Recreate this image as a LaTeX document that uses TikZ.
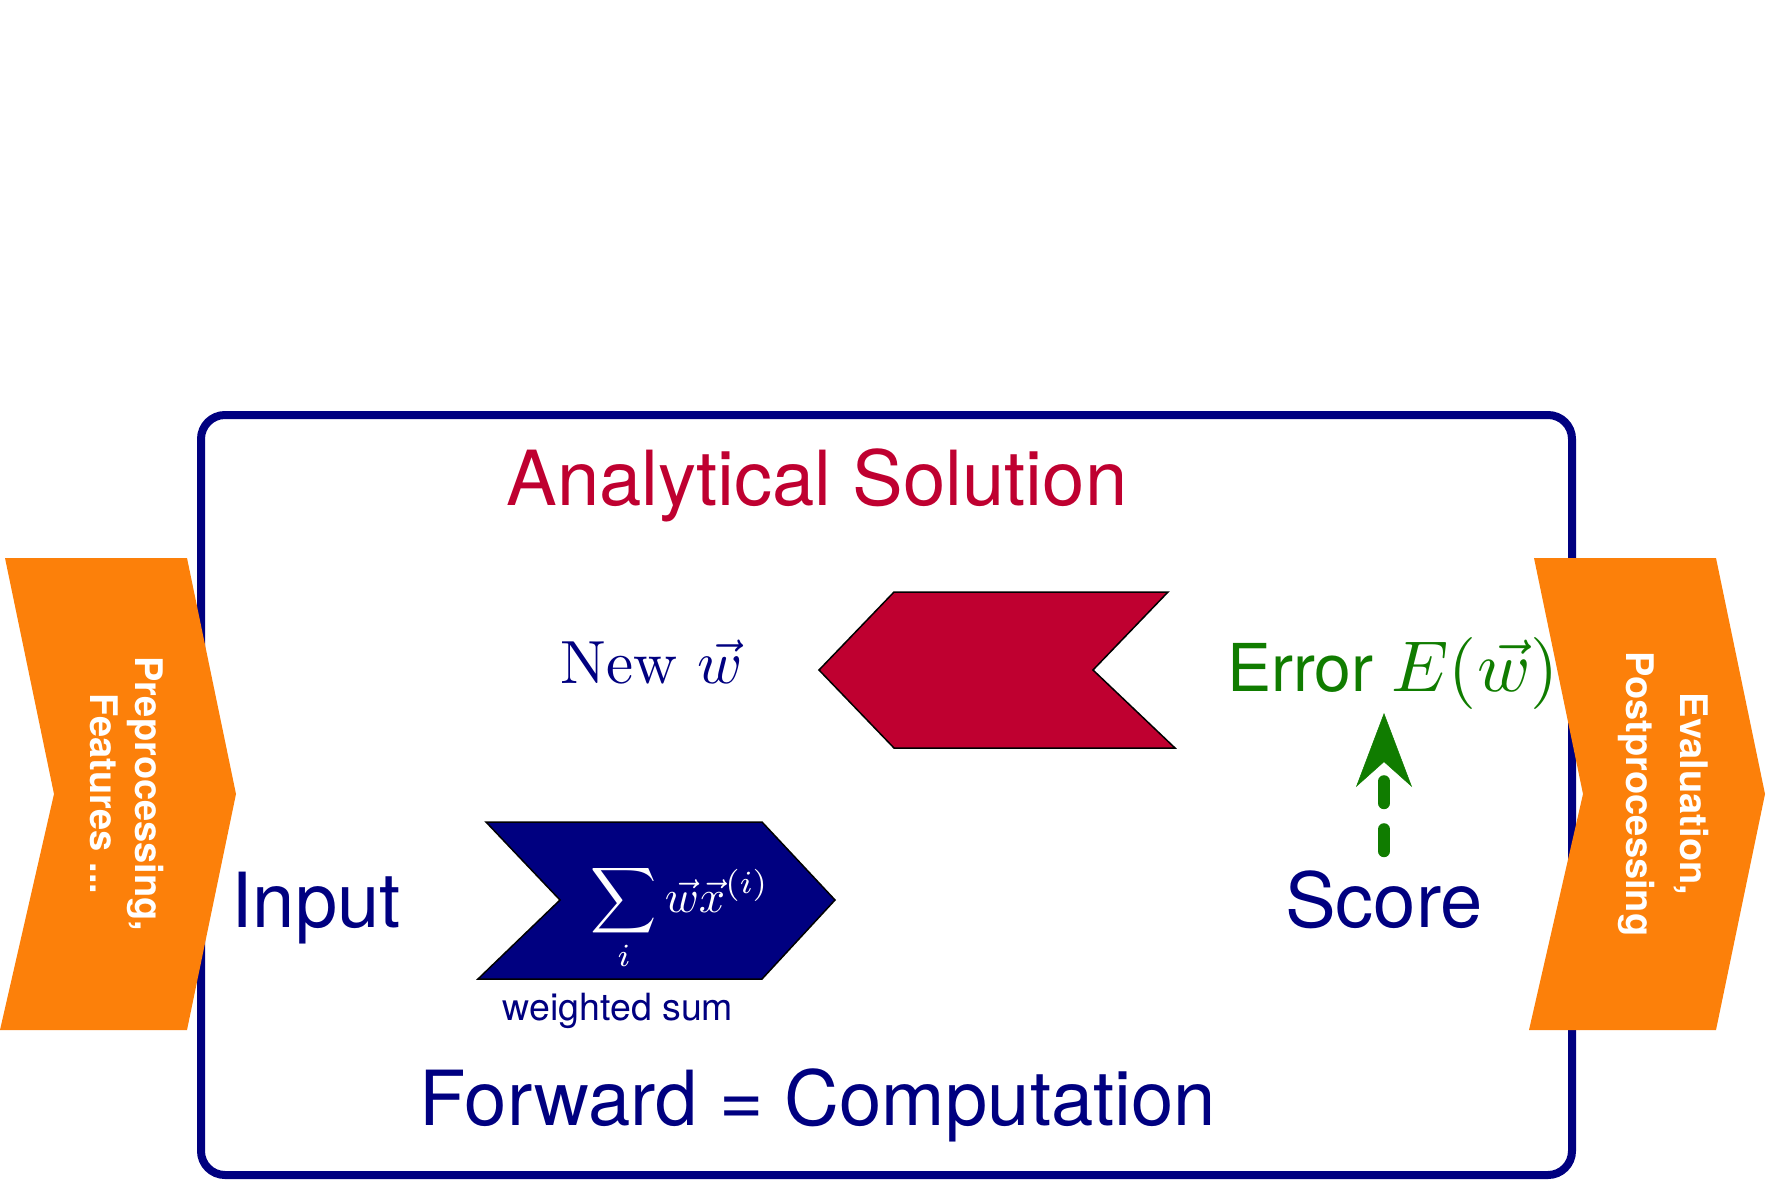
\documentclass[tikz,border=0pt]{standalone}
\usepackage{fontspec}
\usepackage{graphicx}
\setsansfont{TeX Gyre Heros}
\usetikzlibrary{arrows.meta}
\definecolor{navyc}{RGB}{0,0,128}
\definecolor{redc}{RGB}{191,0,48}
\definecolor{orangec}{RGB}{252,128,10}
\definecolor{greenc}{RGB}{16,124,0}
\begin{document}
\begin{tikzpicture}[x=1pt,y=-1pt,
  lbl/.style={inner sep=0pt, outer sep=0pt},
  bigsans/.style={lbl, font=\sffamily\fontsize{76}{91}\selectfont},
  sidetext/.style={lbl, text=white, align=center, rotate=-90,
    font=\sffamily\bfseries\fontsize{38}{45}\selectfont},
  chev/.style={draw=black, line width=1.5pt, line join=miter},
  orangechev/.style={fill=orangec},
  arr/.style={draw=greenc, line width=12pt, line cap=round, dash pattern=on 22pt off 26pt,
    -{Stealth[length=74pt,width=56pt,inset=25pt,line width=0.5pt]}}
]
\useasboundingbox (0,0) rectangle (1773,1183);
% frame
\draw[navyc, line width=8pt, rounded corners=24pt] (201,415) rectangle (1572,1175);
% orange side chevrons
\fill[orangechev] (5,558) -- (187,558) -- (236,794) -- (187,1030) -- (0,1030) -- (54,794) -- cycle;
\fill[orangechev] (1534,558) -- (1716,558) -- (1765,794) -- (1716,1030) -- (1529,1030) -- (1583,794) -- cycle;
\node[sidetext] (pre) at (127,794) {Preprocessing,\\Features ...};
\node[sidetext] (post) at (1663,794) {Evaluation,\\[9pt]Postprocessing};
% red chevron
\draw[chev, fill=redc] (894,592) -- (1168,592) -- (1093,670) -- (1175,748) -- (894,748) -- (819,670) -- cycle;
% blue chevron
\draw[chev, fill=navyc] (486,822) -- (762,822) -- (835,900) -- (762,979) -- (478,979) -- (560,900) -- cycle;
\node[lbl, anchor=base, text=white] (sum) at (680,912)
  {\scalebox{4.6}{$\displaystyle\sum_i \vec w\vec x^{(i)}$}};
\node[lbl, anchor=base, text=navyc, font=\sffamily\fontsize{37.5}{45}\selectfont] (ws) at (618,1020) {weighted sum};
% labels
\node[bigsans, anchor=base, text=redc] (anal) at (817,505) {Analytical Solution};
\node[bigsans, anchor=base, text=navyc] (input) at (316,927) {Input};
\node[bigsans, anchor=base, text=navyc] (score) at (1384,927) {Score};
\node[bigsans, anchor=base, text=navyc] (fwd) at (818,1125) {Forward = Computation};
\node[lbl, anchor=base, text=navyc, font=\rmfamily] (neww) at (651.5,683) {\scalebox{6.1}{New $\vec w$}};
\node[lbl, anchor=base west, text=greenc] (err) at (1227,691)
  {{\sffamily\fontsize{66}{79}\selectfont Error\ }\scalebox{7.2}{$E(\vec w)$}};
% arrow
\draw[arr, shorten <=19pt, shorten >=4pt] (score.north) -- (score.north |- err.south);
\end{tikzpicture}
\end{document}
